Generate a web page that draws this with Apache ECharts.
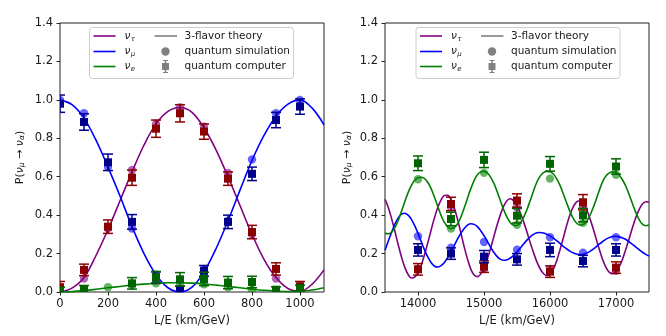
<!DOCTYPE html>
<html><head><meta charset="utf-8">
<script src="https://cdn.jsdelivr.net/npm/echarts@6/dist/echarts.min.js"></script>
<style>html,body{margin:0;padding:0;background:#fff}#c{width:666px;height:336px}</style>
</head><body><div id="c"></div>
<script>
// ---------- Left panel (L/E 0..1100) ----------
const leftTheoryX = [0,50,100,150,200,250,300,350,400,450,500,550,600,650,700,750,800,850,900,950,1000,1050,1100];
const leftTheoryTau = [0,0.02,0.075,0.19,0.325,0.475,0.625,0.765,0.875,0.94,0.96,0.935,0.855,0.74,0.6,0.45,0.3,0.17,0.075,0.018,0.003,0.04,0.115];
const leftTheoryMu = [1.0,0.975,0.905,0.79,0.65,0.5,0.34,0.2,0.09,0.022,0.0,0.025,0.105,0.225,0.37,0.53,0.685,0.815,0.915,0.978,1.0,0.958,0.87];
const leftTheoryE = [0,0.002,0.007,0.014,0.022,0.029,0.036,0.041,0.045,0.048,0.048,0.046,0.042,0.036,0.029,0.022,0.015,0.009,0.005,0.002,0.003,0.01,0.022];

const leftPtX = [0,100,200,300,400,500,600,700,800,900,1000];
const leftSimTau = [0,0.07,0.33,0.635,0.875,0.96,0.86,0.62,0.3,0.07,0];
const leftSimMu = [1.0,0.93,0.65,0.33,0.09,0.005,0.12,0.37,0.69,0.93,1.0];
const leftSimE = [0,0.006,0.025,0.035,0.045,0.045,0.04,0.025,0.012,0.002,0];

const leftQcTau = [0.025,0.115,0.34,0.595,0.85,0.93,0.835,0.59,0.312,0.12,0.03];
const leftQcTauErr = [0.03,0.03,0.035,0.04,0.045,0.045,0.04,0.035,0.035,0.032,0.025];
const leftQcMu = [0.98,0.885,0.675,0.365,0.075,0.01,0.11,0.365,0.615,0.895,0.965];
const leftQcMuErr = [0.045,0.043,0.043,0.038,0.03,0.02,0.028,0.035,0.035,0.04,0.04];
const leftQcE = [0.005,0.012,null,0.045,0.077,0.066,0.068,0.049,0.052,0.012,0.02];
const leftQcEErr = [0.02,0.022,0,0.03,0.03,0.035,0.035,0.032,0.03,0.015,0.015];

// ---------- Right panel (L/E 13500..17500) ----------
const rightTheoryX = [13500,13550,13600,13650,13700,13750,13800,13850,13900,13950,14000,14050,14100,14150,14200,14250,14300,14350,14400,14450,14500,14550,14600,14650,14700,14750,14800,14850,14900,14950,15000,15050,15100,15150,15200,15250,15300,15350,15400,15450,15500,15550,15600,15650,15700,15750,15800,15850,15900,15950,16000,16050,16100,16150,16200,16250,16300,16350,16400,16450,16500,16550,16600,16650,16700,16750,16800,16850,16900,16950,17000,17050,17100,17150,17200,17250,17300,17350,17400,17450,17500];
const rightTheoryTau = [0.482,0.440,0.382,0.316,0.246,0.182,0.128,0.091,0.073,0.077,0.101,0.141,0.196,0.258,0.324,0.387,0.440,0.479,0.502,0.503,0.481,0.437,0.377,0.307,0.235,0.171,0.119,0.088,0.080,0.093,0.125,0.171,0.227,0.289,0.350,0.404,0.448,0.476,0.485,0.474,0.449,0.412,0.365,0.313,0.257,0.205,0.158,0.121,0.096,0.085,0.092,0.118,0.161,0.218,0.280,0.343,0.399,0.442,0.468,0.475,0.462,0.432,0.388,0.334,0.276,0.219,0.167,0.127,0.102,0.095,0.105,0.132,0.172,0.224,0.279,0.336,0.388,0.429,0.458,0.470,0.468];
const rightTheoryMu = [0.217,0.265,0.311,0.354,0.386,0.405,0.410,0.400,0.378,0.345,0.305,0.261,0.218,0.181,0.152,0.134,0.130,0.137,0.154,0.179,0.209,0.243,0.276,0.306,0.331,0.348,0.355,0.352,0.340,0.319,0.293,0.263,0.233,0.206,0.184,0.170,0.165,0.168,0.177,0.191,0.209,0.229,0.250,0.270,0.287,0.300,0.308,0.310,0.307,0.301,0.292,0.280,0.267,0.253,0.238,0.225,0.213,0.204,0.198,0.195,0.196,0.202,0.210,0.222,0.235,0.250,0.263,0.275,0.283,0.289,0.290,0.287,0.281,0.273,0.261,0.248,0.234,0.220,0.207,0.196,0.187];
const rightTheoryE = [0.305,0.303,0.312,0.335,0.372,0.42,0.47,0.517,0.555,0.582,0.595,0.597,0.59,0.57,0.537,0.493,0.445,0.398,0.362,0.339,0.33,0.335,0.355,0.39,0.437,0.488,0.538,0.58,0.61,0.625,0.628,0.62,0.598,0.565,0.522,0.474,0.427,0.388,0.36,0.347,0.346,0.36,0.388,0.428,0.476,0.526,0.571,0.603,0.621,0.628,0.626,0.614,0.59,0.556,0.513,0.466,0.421,0.384,0.359,0.349,0.351,0.366,0.395,0.435,0.482,0.532,0.576,0.605,0.62,0.625,0.622,0.608,0.583,0.549,0.506,0.459,0.414,0.377,0.353,0.345,0.349];

const rightPtX = [14000,14500,15000,15500,16000,16500,17000];
const rightSimTau = [0.12,0.44,0.12,0.44,0.12,0.445,0.11];
const rightSimMu = [0.29,0.23,0.26,0.22,0.285,0.205,0.285];
const rightSimE = [0.587,0.33,0.62,0.35,0.59,0.36,0.61];

const rightQcTau = [0.118,0.458,0.132,0.476,0.106,0.467,0.127];
const rightQcTauErr = [0.03,0.035,0.03,0.035,0.03,0.04,0.03];
const rightQcMu = [0.219,0.2,0.184,0.17,0.219,0.161,0.219];
const rightQcMuErr = [0.032,0.03,0.032,0.03,0.035,0.03,0.032];
const rightQcE = [0.67,0.38,0.6875,0.397,0.667,0.4,0.653];
const rightQcEErr = [0.038,0.035,0.04,0.038,0.038,0.035,0.04];

// ticks
const leftXTicks = [0,200,400,600,800,1000];
const rightXTicks = [14000,15000,16000,17000];

// ---------- styling ----------
const FONT = 'DejaVu Sans';
const TXT = '#1a1a1a';
const C = {tau:'#800080', mu:'#0000ff', e:'#008000'};
const SIM = {tau:'rgba(128,0,128,0.6)', mu:'rgba(0,0,255,0.6)', e:'rgba(0,128,0,0.6)'};
const QC = {tau:'#8b0000', mu:'#00008b', e:'#006400'};

const chart = echarts.init(document.getElementById('c'), null, {renderer:'canvas'});

function zip(xs, ys, es) {
  const out = [];
  for (let i = 0; i < xs.length; i++) {
    if (ys[i] === null || ys[i] === undefined) continue;
    out.push(es ? [xs[i], ys[i], es[i]] : [xs[i], ys[i]]);
  }
  return out;
}

function clipRect(params) {
  const cs = params.coordSys;
  return {type:'rect', shape:{x:cs.x, y:cs.y, width:cs.width, height:cs.height}};
}

function lineSeries(p, xs, ys, color) {
  return {type:'line', xAxisIndex:p, yAxisIndex:p, data:zip(xs, ys), showSymbol:false, smooth:0.35,
    lineStyle:{color:color, width:1.6}, silent:true, z:1, animation:false};
}
function simSeries(p, xs, ys, color) {
  return {type:'custom', coordinateSystem:'cartesian2d', xAxisIndex:p, yAxisIndex:p, data:zip(xs, ys),
    encode:{x:0, y:1}, silent:true, z:2, animation:false, clip:false,
    renderItem: function(params, api) {
      const c = api.coord([api.value(0), api.value(1)]);
      return {type:'group', clipPath:clipRect(params), children:[
        {type:'circle', shape:{cx:c[0], cy:c[1], r:4.2}, style:{fill:color}}
      ]};
    }};
}
function qcSeries(p, xs, ys, es, color) {
  return {type:'custom', coordinateSystem:'cartesian2d', xAxisIndex:p, yAxisIndex:p, data:zip(xs, ys, es),
    encode:{x:0, y:1}, silent:true, z:3, animation:false, clip:false,
    renderItem: function(params, api) {
      const x = api.value(0), y = api.value(1), e = api.value(2);
      const c = api.coord([x, y]);
      const t = api.coord([x, y + e]);
      const b = api.coord([x, y - e]);
      const st = {stroke:color, lineWidth:1.5};
      return {type:'group', clipPath:clipRect(params), children:[
        {type:'line', shape:{x1:c[0], y1:t[1], x2:c[0], y2:b[1]}, style:st},
        {type:'line', shape:{x1:c[0]-5, y1:t[1], x2:c[0]+5, y2:t[1]}, style:st},
        {type:'line', shape:{x1:c[0]-5, y1:b[1], x2:c[0]+5, y2:b[1]}, style:st},
        {type:'rect', shape:{x:c[0]-4, y:c[1]-4, width:8, height:8}, style:{fill:color}}
      ]};
    }};
}

function xAxisDef(p, min, max, ticks) {
  return {gridIndex:p, type:'value', min:min, max:max,
    axisLine:{show:false},
    axisTick:{show:true, inside:false, length:3.5, customValues:ticks, lineStyle:{color:'#222', width:1}},
    axisLabel:{customValues:ticks, margin:6, fontSize:11.5, fontFamily:FONT, color:TXT, formatter:v => String(v)},
    splitLine:{show:false},
    name:'L/E (km/GeV)', nameLocation:'middle', nameGap:22,
    nameTextStyle:{fontSize:11.5, fontFamily:FONT, color:TXT}};
}
function yAxisDef(p, gap) {
  return {gridIndex:p, type:'value', min:0, max:1.4, interval:0.2,
    axisLine:{show:false},
    axisTick:{show:true, inside:false, length:3.5, lineStyle:{color:'#222', width:1}},
    axisLabel:{margin:7, fontSize:11.5, fontFamily:FONT, color:TXT, formatter:v => v.toFixed(1)},
    splitLine:{show:false},
    name:'{n|P(}{i|ν}{s|μ}{n| → }{i|ν}{s|α}{n|)}', nameLocation:'middle', nameRotate:90, nameGap:gap,
    nameTextStyle:{fontSize:11, fontFamily:FONT, color:TXT, rich:{
      n:{fontSize:11, fontFamily:FONT, color:TXT, verticalAlign:'bottom', lineHeight:14},
      i:{fontSize:11, fontFamily:FONT, fontStyle:'italic', color:TXT, verticalAlign:'bottom', lineHeight:14},
      s:{fontSize:7.5, fontFamily:FONT, fontStyle:'italic', color:TXT, verticalAlign:'bottom', lineHeight:6}
    }}};
}

function legend(L) {
  const els = [];
  els.push({type:'rect', shape:{x:L, y:27.5, width:204, height:51, r:3},
    style:{fill:'rgba(255,255,255,0.8)', stroke:'#cccccc', lineWidth:1}, z:100});
  const rows = [36, 51.5, 66.5];
  const cols = [C.tau, C.mu, C.e];
  const subs = ['τ', 'μ', 'e'];
  for (let i = 0; i < 3; i++) {
    els.push({type:'line', shape:{x1:L+4, y1:rows[i], x2:L+26, y2:rows[i]}, style:{stroke:cols[i], lineWidth:1.6}, z:101});
    els.push({type:'text', x:L+35, y:rows[i], style:{text:'ν', fontSize:10.5, fontStyle:'italic', fontFamily:FONT, fill:TXT, verticalAlign:'middle', align:'left'}, z:101});
    els.push({type:'text', x:L+41.2, y:rows[i]+3, style:{text:subs[i], fontSize:7, fontStyle:'italic', fontFamily:FONT, fill:TXT, verticalAlign:'middle', align:'left'}, z:101});
  }
  const g = '#808080';
  els.push({type:'line', shape:{x1:L+65, y1:rows[0], x2:L+87.5, y2:rows[0]}, style:{stroke:g, lineWidth:1.6}, z:101});
  els.push({type:'circle', shape:{cx:L+76, cy:rows[1], r:4.2}, style:{fill:g}, z:101});
  els.push({type:'rect', shape:{x:L+72.5, y:rows[2]-3.5, width:7, height:7}, style:{fill:g}, z:101});
  els.push({type:'line', shape:{x1:L+76, y1:rows[2]-6, x2:L+76, y2:rows[2]+6}, style:{stroke:g, lineWidth:1.5}, z:101});
  els.push({type:'line', shape:{x1:L+73.5, y1:rows[2]-6, x2:L+78.5, y2:rows[2]-6}, style:{stroke:g, lineWidth:1}, z:101});
  els.push({type:'line', shape:{x1:L+73.5, y1:rows[2]+6, x2:L+78.5, y2:rows[2]+6}, style:{stroke:g, lineWidth:1}, z:101});
  const labels = ['3-flavor theory', 'quantum simulation', 'quantum computer'];
  for (let i = 0; i < 3; i++) {
    els.push({type:'text', x:L+95, y:rows[i], style:{text:labels[i], fontSize:10.5, fontFamily:FONT, fill:TXT, verticalAlign:'middle', align:'left'}, z:101});
  }
  return els;
}

const series = [];
// left
series.push(lineSeries(0, leftTheoryX, leftTheoryTau, C.tau));
series.push(lineSeries(0, leftTheoryX, leftTheoryMu, C.mu));
series.push(lineSeries(0, leftTheoryX, leftTheoryE, C.e));
series.push(simSeries(0, leftPtX, leftSimTau, SIM.tau));
series.push(simSeries(0, leftPtX, leftSimMu, SIM.mu));
series.push(simSeries(0, leftPtX, leftSimE, SIM.e));
series.push(qcSeries(0, leftPtX, leftQcTau, leftQcTauErr, QC.tau));
series.push(qcSeries(0, leftPtX, leftQcMu, leftQcMuErr, QC.mu));
series.push(qcSeries(0, leftPtX, leftQcE, leftQcEErr, QC.e));
// right
series.push(lineSeries(1, rightTheoryX, rightTheoryTau, C.tau));
series.push(lineSeries(1, rightTheoryX, rightTheoryMu, C.mu));
series.push(lineSeries(1, rightTheoryX, rightTheoryE, C.e));
series.push(simSeries(1, rightPtX, rightSimTau, SIM.tau));
series.push(simSeries(1, rightPtX, rightSimMu, SIM.mu));
series.push(simSeries(1, rightPtX, rightSimE, SIM.e));
series.push(qcSeries(1, rightPtX, rightQcTau, rightQcTauErr, QC.tau));
series.push(qcSeries(1, rightPtX, rightQcMu, rightQcMuErr, QC.mu));
series.push(qcSeries(1, rightPtX, rightQcE, rightQcEErr, QC.e));

chart.setOption({
  animation:false,
  backgroundColor:'#ffffff',
  grid:[
    {left:60, top:23, width:264, height:269, show:true, borderColor:'#222', borderWidth:1, backgroundColor:'transparent'},
    {left:385, top:23, width:264, height:269, show:true, borderColor:'#222', borderWidth:1, backgroundColor:'transparent'}
  ],
  xAxis:[xAxisDef(0, 0, 1100, leftXTicks), xAxisDef(1, 13500, 17500, rightXTicks)],
  yAxis:[yAxisDef(0, 34), yAxisDef(1, 32)],
  series:series,
  graphic:{elements:[].concat(legend(89.5), legend(416))}
});
</script>
</body></html>
